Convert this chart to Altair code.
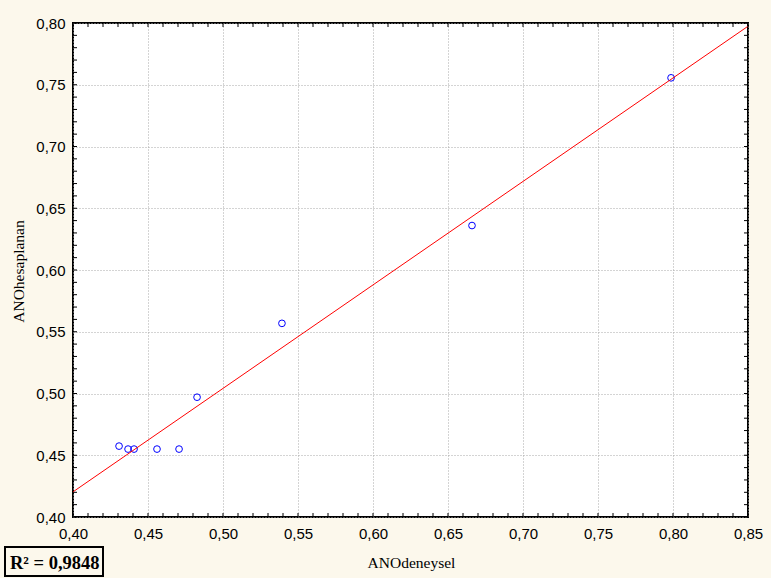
import altair as alt
import pandas as pd

# ---- data ----
x_vals = [0.4307, 0.4367, 0.4407, 0.4560, 0.4707, 0.4827, 0.5393, 0.6660, 0.7987]
y_vals = [0.4574, 0.4550, 0.4550, 0.4550, 0.4550, 0.4970, 0.5568, 0.6360, 0.7556]
x_title = "ANOdeneysel"
y_title = "ANOhesaplanan"
r2_label = "R² = 0,9848"
x_major = [0.40, 0.45, 0.50, 0.55, 0.60, 0.65, 0.70, 0.75, 0.80, 0.85]
y_major = [0.40, 0.45, 0.50, 0.55, 0.60, 0.65, 0.70, 0.75, 0.80]
x_minor = [round(0.40 + 0.01 * i, 2) for i in range(46)]
y_minor = [round(0.40 + 0.01 * i, 2) for i in range(41)]

W, H = 675, 494
LEFT, TOP = 73, 23
BG = "#fcf8ec"

df = pd.DataFrame({"x": x_vals, "y": y_vals})
xt = pd.DataFrame({"x": x_minor})
yt = pd.DataFrame({"y": y_minor})
ann = pd.DataFrame({"label": [r2_label]})

xscale = alt.Scale(domain=[0.40, 0.85], nice=False, zero=False)
yscale = alt.Scale(domain=[0.40, 0.80], nice=False, zero=False)
lab = "replace(format(datum.value, '.2f'), '.', ',')"

x_axis = alt.Axis(
    values=x_major, grid=True, gridDash=[1, 2], gridColor="#a8a8a8", gridWidth=1,
    ticks=False, domain=False, labelExpr=lab, labelFont="Liberation Sans",
    labelFontSize=15, labelColor="#000000", labelPadding=9, labelFlush=False,
    title=x_title, titleFont="Liberation Serif", titleFontSize=15.5,
    titleFontWeight="normal", titleColor="#000000",
    titleX=338, titleY=50, titleAlign="center", titleBaseline="alphabetic",
)
y_axis = alt.Axis(
    values=y_major, grid=True, gridDash=[1, 2], gridColor="#a8a8a8", gridWidth=1,
    ticks=False, domain=False, labelExpr=lab, labelFont="Liberation Sans",
    labelFontSize=15, labelColor="#000000", labelPadding=8, labelFlush=False,
    labelBaseline="middle",
    title=y_title, titleFont="Liberation Serif", titleFontSize=15.5,
    titleFontWeight="normal", titleColor="#000000", titleAngle=-90,
    titleX=-50, titleY=248, titleAlign="center", titleBaseline="alphabetic",
)

X = alt.X("x:Q", scale=xscale, axis=x_axis)
Y = alt.Y("y:Q", scale=yscale, axis=y_axis)

points = alt.Chart(df).mark_point(
    shape="circle", filled=False, color="#0000ff", size=45, strokeWidth=1, opacity=1
).encode(x=X, y=Y)

line = alt.Chart(df).transform_regression(
    "x", "y", extent=[0.40, 0.85]
).mark_line(color="#ff0000", strokeWidth=1).encode(x=X, y=Y)

tick_style = dict(color="#000000", strokeWidth=1)
bottom_ticks = alt.Chart(xt).mark_rule(**tick_style).encode(
    x=X, y=alt.value(H), y2=alt.value(H - 4)
)
top_ticks = alt.Chart(xt).mark_rule(**tick_style).encode(
    x=X, y=alt.value(0), y2=alt.value(4)
)
left_ticks = alt.Chart(yt).mark_rule(**tick_style).encode(
    y=Y, x=alt.value(0), x2=alt.value(4)
)
right_ticks = alt.Chart(yt).mark_rule(**tick_style).encode(
    y=Y, x=alt.value(W), x2=alt.value(W - 4)
)

box = alt.Chart(ann).mark_rect(
    fill=BG, stroke="#000000", strokeWidth=2, clip=False
).encode(
    x=alt.value(5 - LEFT), x2=alt.value(103 - LEFT),
    y=alt.value(547 - TOP), y2=alt.value(576 - TOP),
)
box_text = alt.Chart(ann).mark_text(
    font="Liberation Serif", fontSize=18.5, fontWeight="bold", color="#000000",
    align="left", baseline="alphabetic", clip=False
).encode(
    text="label:N", x=alt.value(10 - LEFT), y=alt.value(569 - TOP)
)

chart = alt.layer(
    points, line, bottom_ticks, top_ticks, left_ticks, right_ticks, box, box_text
).properties(
    width=W, height=H,
    autosize=alt.AutoSizeParams(type="none"),
    padding={"left": LEFT, "top": TOP, "right": 771 - LEFT - W, "bottom": 578 - TOP - H},
    background=BG,
).configure_view(
    stroke="#000000", strokeWidth=2, fill="#ffffff"
)

chart.save("out.html", embed_options={"renderer": "svg", "actions": False})
